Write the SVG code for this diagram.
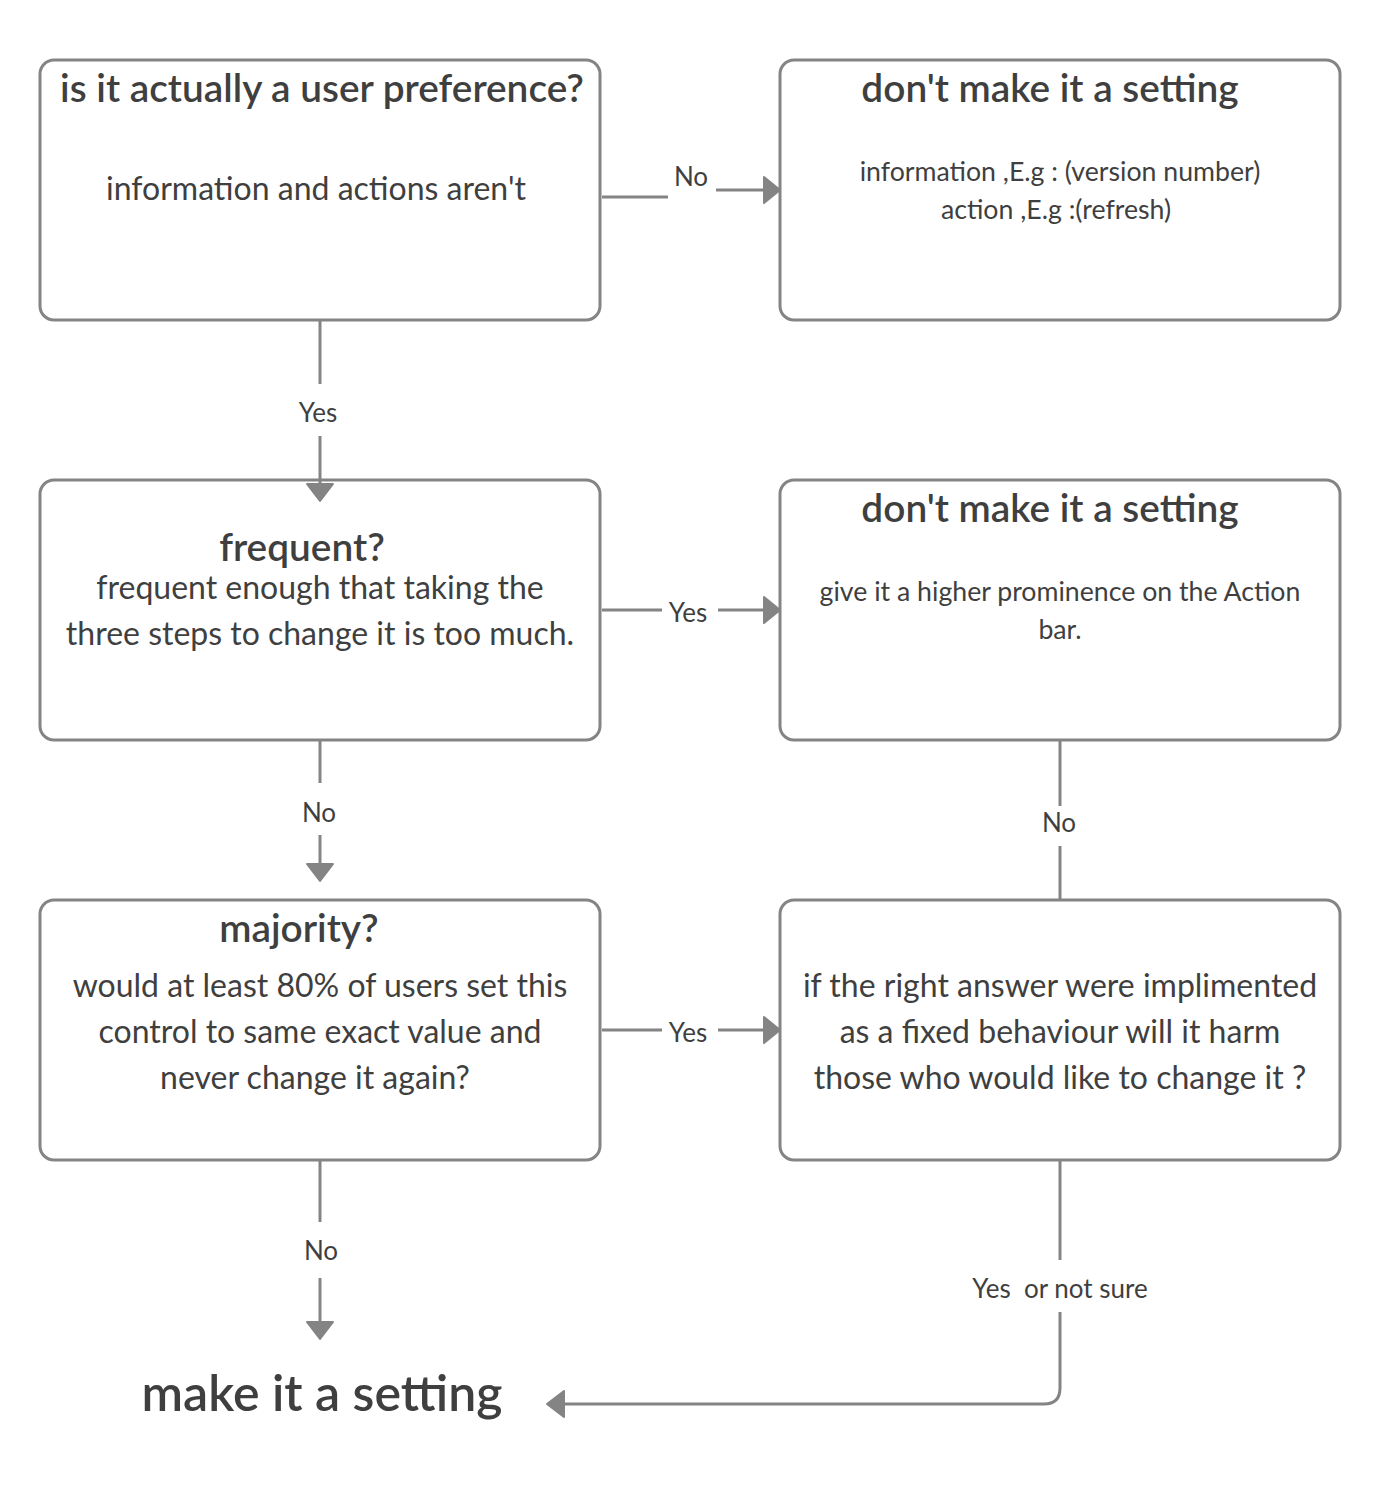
<svg xmlns="http://www.w3.org/2000/svg" width="1380" height="1488" viewBox="0 0 1380 1488">
<style>
.box{fill:#fff;stroke:#848484;stroke-width:3}
.ln{fill:none;stroke:#848484;stroke-width:3}
.ah{fill:#848484;stroke:#848484;stroke-width:2;stroke-linejoin:round}
text{font-family:Lato,"Liberation Sans",sans-serif;fill:#3f3f3f;text-anchor:middle}
.t{font-size:38.8px;font-weight:600}
.b{font-size:32px}
.s{font-size:26.7px}
.l{font-size:26px}
.big{font-size:50px;font-weight:600}
</style>
<rect width="1380" height="1488" fill="#fff"/>
<g id="n1">
<rect class="box" x="40" y="60" width="560" height="260" rx="14"/>
<text class="t" x="322" y="102">is it actually a user preference?</text>
<text class="b" x="316" y="200">information and actions aren't</text>
</g>
<g id="n2">
<rect class="box" x="780" y="60" width="560" height="260" rx="14"/>
<text class="t" x="1050" y="102">don't make it a setting</text>
<text class="s" x="1060" y="181">information ,E.g : (version number)</text>
<text class="s" x="1056" y="219">action ,E.g :(refresh)</text>
</g>
<g id="n3">
<rect class="box" x="40" y="480" width="560" height="260" rx="14"/>
<text class="t" x="302" y="561">frequent?</text>
<text class="b" x="320" y="599">frequent enough that taking the</text>
<text class="b" x="320" y="645">three steps to change it is too much.</text>
</g>
<g id="n4">
<rect class="box" x="780" y="480" width="560" height="260" rx="14"/>
<text class="t" x="1050" y="522">don't make it a setting</text>
<text class="s" x="1060" y="601">give it a higher prominence on the Action</text>
<text class="s" x="1060" y="639">bar.</text>
</g>
<g id="n5">
<rect class="box" x="40" y="900" width="560" height="260" rx="14"/>
<text class="t" x="299" y="942">majority?</text>
<text class="b" x="320" y="997">would at least 80% of users set this</text>
<text class="b" x="320" y="1043">control to same exact value and</text>
<text class="b" x="315" y="1089">never change it again?</text>
</g>
<g id="n6">
<rect class="box" x="780" y="900" width="560" height="260" rx="14"/>
<text class="b" x="1060" y="997">if the right answer were implimented</text>
<text class="b" x="1060" y="1043">as a fixed behaviour will it harm</text>
<text class="b" x="1060" y="1089">those who would like to change it ?</text>
</g>
<g id="n7">
<text class="big" x="322" y="1411">make it a setting</text>
</g>
<g id="connectors">
<path class="ln" d="M602,197 H668"/>
<path class="ln" d="M716,190 H764"/>
<path class="ah" d="M764,177 L780,190 L764,203 Z"/>
<text class="l" x="691" y="186">No</text>
<path class="ln" d="M320,320 V384"/>
<path class="ln" d="M320,436 V484"/>
<path class="ah" d="M307,484 L320,501 L333,484 Z"/>
<text class="l" x="318" y="422">Yes</text>
<path class="ln" d="M602,610 H662"/>
<path class="ln" d="M718,610 H764"/>
<path class="ah" d="M764,597 L780,610 L764,623 Z"/>
<text class="l" x="688" y="622">Yes</text>
<path class="ln" d="M320,740 V783"/>
<path class="ln" d="M320,835 V864"/>
<path class="ah" d="M307,864 L320,881 L333,864 Z"/>
<text class="l" x="319" y="822">No</text>
<path class="ln" d="M1060,740 V806"/>
<path class="ln" d="M1060,846 V900"/>
<text class="l" x="1059" y="832">No</text>
<path class="ln" d="M602,1030 H662"/>
<path class="ln" d="M718,1030 H764"/>
<path class="ah" d="M764,1017 L780,1030 L764,1043 Z"/>
<text class="l" x="688" y="1042">Yes</text>
<path class="ln" d="M320,1160 V1222"/>
<path class="ln" d="M320,1278 V1322"/>
<path class="ah" d="M307,1322 L320,1339 L333,1322 Z"/>
<text class="l" x="321" y="1260">No</text>
<path class="ln" d="M1060,1160 V1260"/>
<path class="ln" d="M1060,1312 V1388 Q1060,1404 1044,1404 H562"/>
<path class="ah" d="M564,1391 L547,1404 L564,1417 Z"/>
<text class="l" x="1060" y="1298" style="white-space:pre">Yes  or not sure</text>
</g>
</svg>
